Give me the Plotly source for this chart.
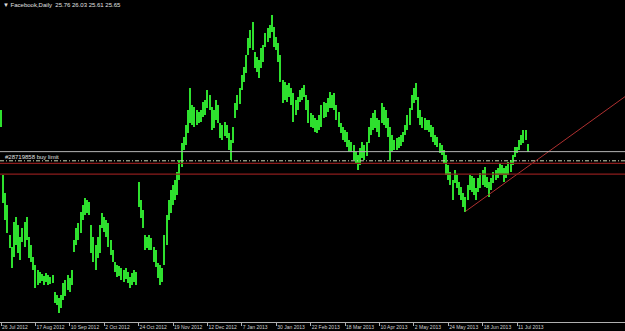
import plotly.graph_objects as go

# ---- data (bar index from 26 Jul 2012, prices in USD) ----
highs = [27.74, 24.48, 23.57, 22.97, 21.46, 20.86, 22.12, 22.37, 21.97, 21.36,
         21.81, 22.12, 22.37, 21.36, 20.96, 20.36, 19.96, 19.71, 19.61, 19.51,
         19.40, 19.56, 19.46, 19.35, 19.46, 18.60, 18.45, 18.30, 18.45, 19.05,
         19.20, 19.46, 19.30, 19.71, 21.21, 21.81, 22.07, 22.62, 22.97, 23.32,
         23.22, 23.12, 21.97, 21.36, 20.96, 21.36, 21.97, 22.57, 22.37, 22.22,
         22.07, 21.21, 20.71, 20.11, 19.96, 19.91, 19.81, 19.71, 19.81, 19.61,
         19.35, 19.56, 19.71, 19.61, 24.12, 23.22, 22.72, 21.46, 21.36, 21.46,
         21.31, 20.86, 20.71, 20.06, 19.96, 19.81, 21.46, 22.47, 23.22, 23.72,
         23.97, 24.22, 24.63, 25.23, 26.08, 26.38, 26.99, 27.74, 28.84, 27.99,
         27.89, 27.74, 27.64, 27.74, 28.14, 28.24, 28.74, 28.49, 27.89, 27.74,
         28.24, 27.99, 27.09, 26.99, 27.14, 26.99, 26.58, 26.23, 26.88, 28.09,
         28.49, 28.84, 29.50, 29.90, 30.50, 31.35, 31.75, 32.16, 30.65, 30.40,
         30.25, 30.85, 31.00, 31.60, 31.85, 32.00, 32.51, 31.90, 31.40, 31.10,
         30.50, 29.24, 29.14, 28.99, 29.09, 28.84, 28.59, 28.24, 28.39, 28.74,
         28.84, 28.99, 28.49, 28.24, 27.59, 27.49, 27.34, 27.24, 27.49, 27.99,
         28.14, 28.09, 28.34, 28.64, 28.49, 28.59, 27.99, 27.64, 27.09, 26.88,
         26.73, 26.63, 26.23, 26.13, 25.98, 25.63, 25.48, 25.83, 26.13, 25.98,
         26.13, 26.88, 27.34, 27.59, 27.74, 27.34, 27.24, 28.09, 27.89, 27.74,
         27.34, 26.88, 26.48, 26.23, 26.33, 26.38, 26.48, 26.63, 26.99, 27.49,
         27.84, 28.49, 28.84, 29.09, 28.39, 27.74, 27.39, 27.34, 27.24, 27.24,
         26.99, 26.88, 26.48, 26.38, 26.08, 25.98, 25.73, 25.48, 24.98, 24.63,
         24.22, 24.73, 24.48, 24.12, 23.87, 23.57, 23.37, 23.97, 24.48, 24.43,
         24.32, 23.82, 24.32, 24.58, 24.73, 24.88, 24.37, 24.12, 24.32, 24.63,
         24.73, 24.83, 25.08, 24.98, 24.83, 24.93, 25.13, 25.23, 25.48, 25.88,
         25.88, 26.23, 26.48, 26.73, 26.73, 26.03]

lows = [26.88, 23.07, 22.22, 21.56, 20.81, 19.81, 20.36, 20.96, 20.56, 20.21,
        21.11, 20.86, 21.21, 20.31, 20.11, 19.71, 18.80, 18.95, 19.05, 19.15,
        18.95, 19.10, 18.95, 19.00, 19.05, 18.05, 17.95, 17.55, 17.80, 18.20,
        18.40, 18.70, 18.60, 18.95, 20.61, 20.96, 21.21, 21.56, 22.22, 22.47,
        22.57, 22.47, 20.56, 20.11, 19.71, 20.31, 20.56, 21.81, 21.61, 21.36,
        20.86, 20.46, 20.11, 19.61, 19.35, 19.40, 19.20, 19.10, 19.25, 19.05,
        18.80, 18.95, 19.10, 18.95, 22.87, 22.32, 21.81, 20.71, 20.81, 20.71,
        20.71, 20.11, 19.86, 19.30, 18.95, 19.10, 19.96, 20.96, 22.22, 22.57,
        22.97, 23.22, 23.47, 24.22, 24.88, 25.73, 25.98, 26.58, 27.09, 26.99,
        26.88, 26.99, 27.09, 27.14, 27.39, 27.49, 27.84, 27.74, 26.73, 26.83,
        27.24, 27.09, 26.33, 26.23, 26.43, 26.33, 25.73, 25.23, 26.08, 27.34,
        27.74, 28.04, 28.74, 29.14, 29.60, 30.50, 30.85, 30.75, 29.85, 29.65,
        29.34, 29.85, 30.15, 30.90, 31.15, 31.35, 31.65, 30.90, 30.75, 30.15,
        29.14, 28.09, 28.24, 28.14, 28.39, 27.99, 27.14, 27.49, 27.74, 28.14,
        28.24, 28.39, 27.74, 27.09, 26.88, 26.83, 26.63, 26.58, 26.73, 26.88,
        27.34, 27.39, 27.64, 27.84, 27.84, 27.74, 27.24, 26.88, 26.58, 26.23,
        26.13, 25.88, 25.63, 25.63, 25.23, 25.08, 24.73, 24.98, 25.33, 25.23,
        25.43, 26.08, 26.48, 26.73, 26.83, 26.63, 26.38, 27.09, 26.99, 26.83,
        26.38, 25.23, 25.63, 25.73, 25.73, 25.83, 25.93, 26.13, 26.48, 26.73,
        26.99, 27.74, 28.09, 28.24, 27.34, 26.99, 26.83, 26.73, 26.73, 26.63,
        26.38, 26.13, 25.98, 25.88, 25.58, 25.48, 25.08, 24.48, 24.22, 23.97,
        23.22, 24.07, 23.82, 23.47, 23.22, 22.87, 22.62, 23.22, 23.72, 23.62,
        23.47, 23.22, 23.62, 23.82, 23.97, 23.87, 23.82, 23.37, 23.72, 24.07,
        24.22, 24.32, 24.48, 24.48, 24.12, 24.32, 24.48, 24.63, 24.98, 25.38,
        25.58, 25.73, 25.98, 26.08, 26.23, 25.61]

tick_index = [0, 16, 32, 48, 64, 80, 96, 112, 128, 144, 160, 176, 192, 208, 224, 240]
tick_labels = ["26 Jul 2012", "17 Aug 2012", "10 Sep 2012", "2 Oct 2012", "24 Oct 2012",
               "19 Nov 2012", "12 Dec 2012", "7 Jan 2013", "30 Jan 2013", "22 Feb 2013",
               "18 Mar 2013", "10 Apr 2013", "2 May 2013", "24 May 2013", "18 Jun 2013",
               "11 Jul 2013"]

bid_level = 25.65
buy_limit_level = 25.19
red_levels = [25.06, 24.52]
trend_x = [216, 292]
trend_y = [22.65, 28.55]

title_text = "Facebook,Daily  25.76 26.03 25.61 25.65"
order_label = "#28719858 buy limit"

idx = list(range(len(highs)))
span = [h - l for h, l in zip(highs, lows)]

fig = go.Figure()
fig.add_trace(go.Bar(x=idx, y=span, base=lows, width=0.5,
                     marker=dict(color="#2ee02e", line=dict(width=0)),
                     hoverinfo="skip"))

# horizontal levels
fig.add_shape(type="line", xref="paper", x0=0, x1=1, yref="y", y0=bid_level, y1=bid_level,
              line=dict(color="#b4b4b4", width=1))
fig.add_shape(type="line", xref="paper", x0=0, x1=1, yref="y", y0=buy_limit_level, y1=buy_limit_level,
              line=dict(color="#c8d8b8", width=1, dash="4px,2px,1px,2px"))
for lv in red_levels:
    fig.add_shape(type="line", xref="paper", x0=0, x1=1, yref="y", y0=lv, y1=lv,
                  line=dict(color="#8c1c1c", width=1.3))

fig.add_trace(go.Scatter(x=trend_x, y=trend_y, mode="lines",
                         line=dict(color="#b03030", width=1), hoverinfo="skip"))

fig.add_annotation(xref="paper", yref="paper", x=0.002, y=1.0, xanchor="left", yanchor="top",
                   text="\u25bc " + title_text, showarrow=False,
                   font=dict(family="Liberation Sans, Arial", size=6, color="#e0e0e0"))
fig.add_annotation(xref="paper", yref="y", x=0.004, y=buy_limit_level, xanchor="left", yanchor="bottom",
                   yshift=-1, text=order_label, showarrow=False,
                   font=dict(family="Liberation Sans, Arial", size=6, color="#e0e0e0"))

fig.update_layout(
    width=625, height=331,
    margin=dict(l=0, r=0, t=0, b=9, autoexpand=False),
    paper_bgcolor="black", plot_bgcolor="black",
    showlegend=False, bargap=0,
)
fig.update_xaxes(range=[-0.465, 290.2], showgrid=False, zeroline=False, automargin=False,
                 showline=True, linecolor="#b0b0b0", linewidth=1,
                 tickmode="array", tickvals=tick_index, ticktext=tick_labels,
                 ticks="outside", ticklen=3, tickcolor="#b0b0b0", tickwidth=1,
                 tickangle=0, ticklabelposition="outside right",
                 tickfont=dict(family="Liberation Sans, Arial", size=5, color="#d0d0d0"))
fig.update_yaxes(range=[17.10, 33.26], showgrid=False, zeroline=False, automargin=False,
                 showticklabels=False, showline=False)

fig.write_html("out.html")
